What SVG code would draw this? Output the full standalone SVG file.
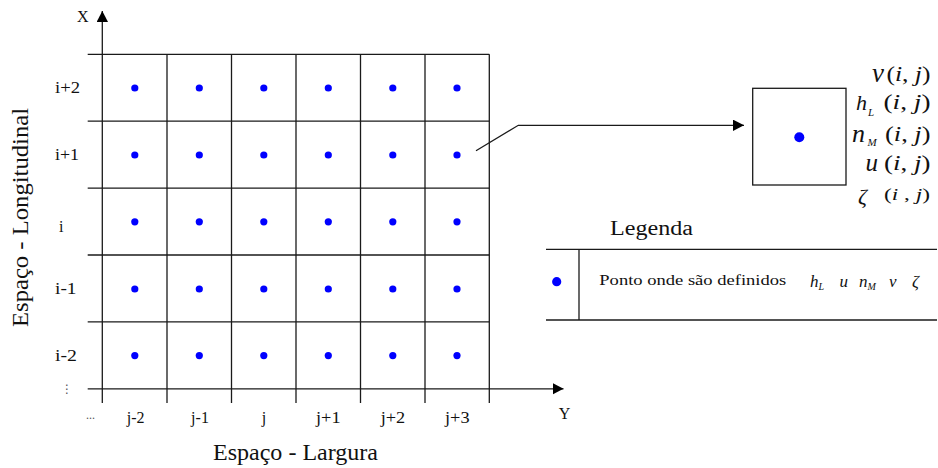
<svg xmlns="http://www.w3.org/2000/svg" width="938" height="468" viewBox="0 0 938 468">
  <style>
    .ln { stroke: #1a1a1a; stroke-width: 1.3; fill: none; }
    .dot { fill: #0000ff; }
    .t { font-family: "Liberation Serif", "Times New Roman", serif; fill: #111; }
    .it { font-family: "Liberation Serif", "Times New Roman", serif; font-style: italic; fill: #111; }
  </style>
  <defs>
    <marker id="ah" markerUnits="userSpaceOnUse" markerWidth="12" markerHeight="12" refX="11" refY="5.7" orient="auto">
      <path d="M0,0 L11,5.7 L0,11.4 Z" fill="#000"/>
    </marker>
  </defs>
  <rect width="938" height="468" fill="#fff"/>

  <!-- Grid -->
  <g id="grid">
    <g class="ln">
      <line x1="87.7" y1="54.3" x2="489.3" y2="54.3"/>
      <line x1="87.7" y1="121.2" x2="489.3" y2="121.2"/>
      <line x1="87.7" y1="188.1" x2="489.3" y2="188.1"/>
      <line x1="87.7" y1="255" x2="489.3" y2="255"/>
      <line x1="87.7" y1="321.9" x2="489.3" y2="321.9"/>
      <line x1="167" y1="54.3" x2="167" y2="403"/>
      <line x1="231.5" y1="54.3" x2="231.5" y2="403"/>
      <line x1="296" y1="54.3" x2="296" y2="403"/>
      <line x1="360.5" y1="54.3" x2="360.5" y2="403"/>
      <line x1="425" y1="54.3" x2="425" y2="403"/>
      <line x1="489.3" y1="54.3" x2="489.3" y2="403"/>
    </g>
    <g class="dot">
      <circle cx="134.8" cy="88" r="3.6"/><circle cx="199.3" cy="88" r="3.6"/><circle cx="263.8" cy="88" r="3.6"/><circle cx="328.3" cy="88" r="3.6"/><circle cx="392.8" cy="88" r="3.6"/><circle cx="457" cy="88" r="3.6"/>
      <circle cx="134.8" cy="155" r="3.6"/><circle cx="199.3" cy="155" r="3.6"/><circle cx="263.8" cy="155" r="3.6"/><circle cx="328.3" cy="155" r="3.6"/><circle cx="392.8" cy="155" r="3.6"/><circle cx="457" cy="155" r="3.6"/>
      <circle cx="134.8" cy="221.8" r="3.6"/><circle cx="199.3" cy="221.8" r="3.6"/><circle cx="263.8" cy="221.8" r="3.6"/><circle cx="328.3" cy="221.8" r="3.6"/><circle cx="392.8" cy="221.8" r="3.6"/><circle cx="457" cy="221.8" r="3.6"/>
      <circle cx="134.8" cy="289" r="3.6"/><circle cx="199.3" cy="289" r="3.6"/><circle cx="263.8" cy="289" r="3.6"/><circle cx="328.3" cy="289" r="3.6"/><circle cx="392.8" cy="289" r="3.6"/><circle cx="457" cy="289" r="3.6"/>
      <circle cx="134.8" cy="355.6" r="3.6"/><circle cx="199.3" cy="355.6" r="3.6"/><circle cx="263.8" cy="355.6" r="3.6"/><circle cx="328.3" cy="355.6" r="3.6"/><circle cx="392.8" cy="355.6" r="3.6"/><circle cx="457" cy="355.6" r="3.6"/>
    </g>
  </g>

  <!-- Axis labels -->
  <g id="labels" class="t">
    <text x="77" y="21.5" font-size="16">X</text>
    <text x="564.5" y="419" font-size="16" text-anchor="middle">Y</text>
    <text x="55" y="93" font-size="16" textLength="25" lengthAdjust="spacingAndGlyphs">i+2</text>
    <text x="55" y="160" font-size="16" textLength="24" lengthAdjust="spacingAndGlyphs">i+1</text>
    <text x="59" y="232" font-size="16">i</text>
    <text x="55" y="294" font-size="16" textLength="21.5" lengthAdjust="spacingAndGlyphs">i-1</text>
    <text x="55" y="361" font-size="16" textLength="22" lengthAdjust="spacingAndGlyphs">i-2</text>
    <text x="67" y="393" font-size="12" font-family="DejaVu Sans, sans-serif" text-anchor="middle" fill="#555">⋮</text>
    <text x="90.5" y="419" font-size="12" text-anchor="middle" fill="#555">...</text>
    <text x="135.7" y="423" font-size="16" text-anchor="middle">j-2</text>
    <text x="200" y="423" font-size="16" text-anchor="middle">j-1</text>
    <text x="264" y="423" font-size="16" text-anchor="middle">j</text>
    <text x="328.3" y="423" font-size="16" text-anchor="middle" textLength="24.5" lengthAdjust="spacingAndGlyphs">j+1</text>
    <text x="393" y="423" font-size="16" text-anchor="middle" textLength="24.5" lengthAdjust="spacingAndGlyphs">j+2</text>
    <text x="457.3" y="423" font-size="16" text-anchor="middle" textLength="24.5" lengthAdjust="spacingAndGlyphs">j+3</text>
    <text x="213" y="460" font-size="23" textLength="165" lengthAdjust="spacingAndGlyphs">Espaço - Largura</text>
    <text transform="translate(27.5,217.5) rotate(-90)" font-size="23" text-anchor="middle" textLength="219" lengthAdjust="spacingAndGlyphs">Espaço - Longitudinal</text>
  </g>

  <!-- Detail cell -->
  <g id="detail">
    <rect x="752.7" y="88.3" width="93.3" height="96.7" class="ln"/>
    <circle cx="799.3" cy="137.3" r="5" class="dot"/>
    <text class="it" x="872" y="82" font-size="27">v</text>
    <text class="t" x="930.5" y="81" font-size="22" text-anchor="end" textLength="44" lengthAdjust="spacingAndGlyphs">(<tspan font-style="italic">i</tspan>, <tspan font-style="italic">j</tspan>)</text>
    <text class="it" x="856" y="110" font-size="22">h<tspan font-size="11" dx="1" dy="6">L</tspan></text>
    <text class="t" x="930.5" y="109" font-size="22" text-anchor="end" textLength="47" lengthAdjust="spacingAndGlyphs">(<tspan font-style="italic">i</tspan>, <tspan font-style="italic">j</tspan>)</text>
    <text class="it" x="852" y="142" font-size="26">n<tspan font-size="11" dx="2.5" dy="4">M</tspan></text>
    <text class="t" x="930.5" y="141" font-size="22" text-anchor="end" textLength="45.5" lengthAdjust="spacingAndGlyphs">(<tspan font-style="italic">i</tspan>, <tspan font-style="italic">j</tspan>)</text>
    <text class="it" x="865.5" y="171" font-size="25">u</text>
    <text class="t" x="930.5" y="170" font-size="22" text-anchor="end" textLength="46.5" lengthAdjust="spacingAndGlyphs">(<tspan font-style="italic">i</tspan>, <tspan font-style="italic">j</tspan>)</text>
    <text class="it" x="858" y="204" font-size="22">ζ</text>
    <text class="t" x="930" y="200" font-size="17" text-anchor="end" textLength="46" lengthAdjust="spacingAndGlyphs">(<tspan font-style="italic">i</tspan> , <tspan font-style="italic">j</tspan>)</text>
  </g>

  <!-- Legend -->
  <g id="legend">
    <text class="t" x="610" y="235" font-size="20" textLength="83" lengthAdjust="spacingAndGlyphs">Legenda</text>
    <line x1="546" y1="249.3" x2="937" y2="249.3" class="ln"/>
    <line x1="546" y1="320" x2="937" y2="320" class="ln"/>
    <line x1="579" y1="249.3" x2="579" y2="320" class="ln"/>
    <circle cx="556.7" cy="281.7" r="4.6" class="dot"/>
    <text class="t" x="599.3" y="285" font-size="15" textLength="187" lengthAdjust="spacingAndGlyphs">Ponto onde são definidos</text>
    <text class="it" x="810" y="287" font-size="17">h<tspan font-size="10" dy="3">L</tspan></text>
    <text class="it" x="839.5" y="287" font-size="17">u</text>
    <text class="it" x="859" y="287" font-size="17">n<tspan font-size="10" dy="3">M</tspan></text>
    <text class="it" x="889" y="287" font-size="17">v</text>
    <text class="it" x="912" y="287" font-size="17">ζ</text>
  </g>

  <!-- Connectors -->
  <g id="connectors" class="ln">
    <line x1="102.3" y1="403" x2="102.3" y2="11" marker-end="url(#ah)"/>
    <line x1="87.7" y1="388.8" x2="563.5" y2="388.8" marker-end="url(#ah)"/>
    <polyline points="476,150.7 518.3,125.3 744,125.3" marker-end="url(#ah)"/>
  </g>
</svg>
